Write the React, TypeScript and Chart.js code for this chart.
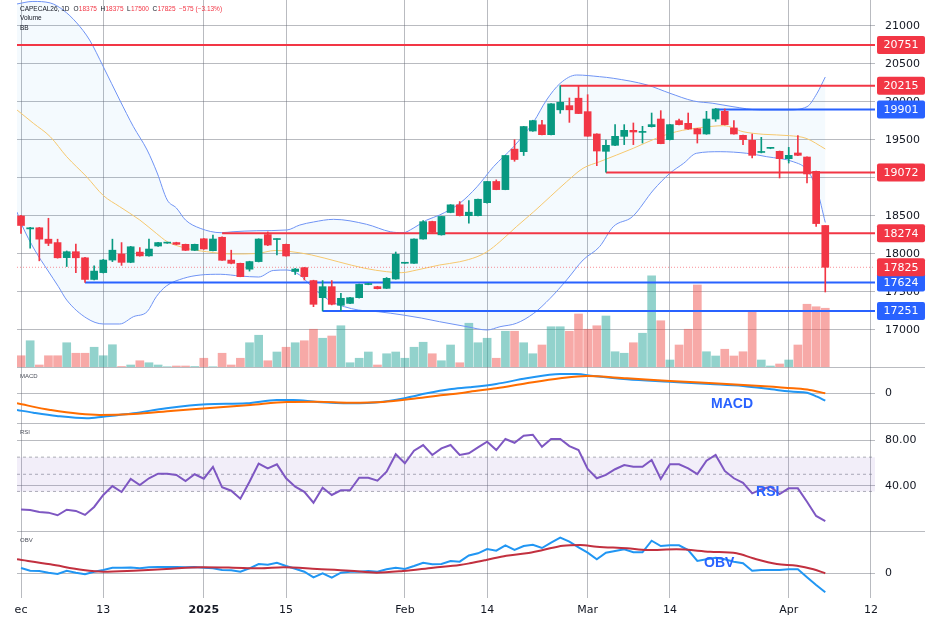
import { useEffect, useRef } from "react";
import Chart from "chart.js/auto";

// daily sessions, index 0 = first visible bar (mid Dec), last = Apr 7
const OPEN = [
  18500, 18330, 18345, 18195, 18150, 17952, 18030, 17950, 17665, 17755,
  17920, 18000, 17890, 18025, 17975, 18105, 18143, 18150, 18127, 18048,
  18200, 18044, 18220, 17920, 17877, 17800, 17900, 18255, 18190, 18127,
  17770, 17820, 17650, 17425, 17570, 17325, 17350, 17425, 17598, 17570,
  17548, 17671, 17878, 17877, 18197, 18428, 18252, 18546, 18647, 18504,
  18504, 18675, 18954, 18847, 19380, 19346, 19618, 19700, 19570, 19897,
  19952, 20050, 19873, 19579, 19351, 19430, 19548, 19627, 19600, 19675,
  19776, 19504, 19754, 19719, 19649, 19579, 19776, 19877, 19658, 19561,
  19496, 19336, 19390, 19351, 19254, 19329, 19276, 19088, 18375,
];
const HIGH = [
  18510, 18350, 18350, 18470, 18195, 18040, 18130, 17955, 17845, 17930,
  18195, 18150, 18100, 18085, 18195, 18155, 18155, 18155, 18130, 18130,
  18205, 18250, 18225, 18050, 17880, 17905, 18200, 18290, 18200, 18130,
  17810, 17825, 17655, 17650, 17650, 17483, 17430, 17605, 17615, 17575,
  17690, 18026, 17890, 18200, 18440, 18432, 18496, 18650, 18690, 18702,
  18724, 18956, 18975, 19298, 19504, 19680, 19760, 19760, 19980, 20215,
  20053, 20213, 20096, 19582, 19500, 19702, 19702, 19724, 19680, 19855,
  19886, 19706, 19776, 19855, 19652, 19877, 19915, 19908, 19754, 19565,
  19579, 19535, 19400, 19355, 19403, 19557, 19280, 19092, 18375,
];
const LOW = [
  18270, 18075, 17910, 18110, 17945, 17835, 17755, 17625, 17660, 17750,
  17900, 17850, 17885, 17970, 17970, 18100, 18140, 18122, 18045, 18045,
  18062, 18040, 17915, 17870, 17700, 17775, 17895, 18110, 17987, 17970,
  17730, 17658, 17307, 17250, 17330, 17251, 17345, 17420, 17595, 17540,
  17545, 17668, 17875, 17875, 18195, 18281, 18248, 18542, 18500, 18405,
  18500, 18670, 18845, 18845, 19220, 19296, 19614, 19568, 19566, 19851,
  19732, 19846, 19548, 19162, 19075, 19425, 19439, 19439, 19460, 19670,
  19450, 19500, 19698, 19640, 19460, 19575, 19745, 19698, 19575, 19439,
  19263, 19330, 19385, 19000, 19197, 19295, 18934, 18364, 17500,
];
const CLOSE = [
  18375, 18345, 18195, 18140, 17950, 18030, 17950, 17665, 17775, 17920,
  18050, 17890, 18095, 17975, 18065, 18150, 18152, 18127, 18048, 18127,
  18066, 18197, 17917, 17877, 17702, 17900, 18197, 18118, 18197, 17974,
  17802, 17702, 17338, 17570, 17338, 17417, 17425, 17600, 17604, 17544,
  17680, 17996, 17886, 18197, 18425, 18285, 18494, 18647, 18504, 18550,
  18720, 18954, 18847, 19296, 19243, 19677, 19755, 19570, 19976, 19996,
  19897, 19848, 19550, 19355, 19430, 19548, 19627, 19605, 19610, 19702,
  19452, 19702, 19702, 19645, 19579, 19776, 19908, 19702, 19579, 19504,
  19298, 19345, 19398, 19254, 19298, 19298, 19053, 18400, 17825,
];
const VOLUME = [
  225, 525, 40, 225, 225, 485, 275, 275, 395, 225,
  445, 10, 40, 125, 85, 40, 5, 20, 20, 10,
  175, 5, 275, 40, 175, 485, 635, 125, 300, 395,
  485, 525, 755, 575, 620, 825, 85, 175, 300, 40,
  265, 300, 175, 395, 495, 265, 125, 440, 85, 875,
  485, 575, 175, 715, 715, 485, 265, 440, 805, 805,
  715, 1060, 755, 825, 1020, 305, 275, 485, 675, 1825,
  925, 140, 440, 755, 1640, 305, 220, 355, 220, 305,
  1105, 140, 20, 60, 140, 440, 1255, 1205, 1175,
];

// Bollinger bands, read at bar positions
const BB_UPPER_X = [
  -0.44, 1.3, 3.2, 4.6, 6.1, 7.5, 9, 10.8, 12.3, 13.8, 14.9, 16, 17, 18, 19.6, 21.9,
  23.2, 25.8, 29.1, 30.5, 32, 34.2, 37.8, 40.4, 41.8, 42.9, 44.4, 45.8, 48, 49.9,
  51.7, 53.9, 56.1, 57.5, 59, 60.8, 63.3, 64.8, 68.5, 71, 73.6, 75.7, 77.9, 80.9,
  83.8, 86, 87.1, 88,
];
const BB_UPPER = [
  21290, 21323, 21303, 21211, 21040, 20816, 20465, 20026, 19675, 19368, 19066, 18710,
  18605, 18447, 18338, 18280, 18293, 18306, 18316, 18381, 18421, 18456, 18391, 18293,
  18280, 18338, 18447, 18513, 18667, 18885, 19149, 19412, 19741, 20026, 20246, 20355,
  20333, 20312, 20224, 20115, 20013, 19983, 19938, 19895, 19895, 19938, 20115, 20329,
];
const BB_BASIS_X = [
  -0.44, 1.35, 3.2, 5, 7.2, 9, 10.8, 13, 14.8, 16, 18.1, 20.3, 23.2, 25.8, 27.8, 29.3,
  31.8, 34.7, 37.6, 40, 41.6, 43.3, 45.8, 48, 49.9, 51, 52.4, 54.2, 56.1, 57.9, 59.7,
  61.5, 63.3, 67, 69.5, 71.7, 74.3, 76.9, 79, 81.2, 84.1, 85.9, 88,
];
const BB_BASIS = [
  19895, 19720, 19543, 19280, 19013, 18770, 18622, 18447, 18272, 18162, 18075, 18030,
  18000, 18006, 18046, 18035, 17987, 17898, 17812, 17767, 17754, 17789, 17855, 17898,
  17964, 18030, 18162, 18359, 18556, 18754, 18951, 19128, 19214, 19391, 19522, 19609,
  19662, 19688, 19609, 19575, 19557, 19522, 19382,
];
const BB_LOWER_X = [
  -0.44, 0.1, 1.5, 2.9, 4.1, 5, 7.2, 9, 10.8, 12.3, 13.8, 14.8, 15.9, 17.8, 19.6, 21.8,
  24, 26, 27.6, 29.1, 30.5, 31.1, 32.2, 34, 35.4, 36.9, 39.1, 41.8, 43.8, 45.8, 48.8,
  51, 52.4, 54.2, 56.1, 57.9, 59.7, 61.5, 63.3, 64.8, 66.9, 69.2, 71, 72.5, 73.9, 76.5,
  79.4, 81.6, 84.5, 86, 87.1, 88,
];
const BB_LOWER = [
  18552, 18381, 18052, 17789, 17569, 17394, 17154, 17079, 17079, 17175, 17241, 17438,
  17579, 17680, 17723, 17733, 17710, 17697, 17783, 17789, 17723, 17658, 17526, 17372,
  17306, 17263, 17240, 17197, 17157, 17109, 17043, 17000, 17043, 17088, 17219, 17417,
  17658, 17921, 18096, 18359, 18491, 18842, 19062, 19193, 19325, 19346, 19325, 19280,
  19214, 19105, 18842, 18414,
];

// horizontal support / resistance levels and the bar each one starts from
const LEVELS = [20751, 20215, 19901, 19072, 18274, 17624, 17251];
const LEVEL_FROM = [-0.44, 59, 76, 64, 22, 7, 33];

const MACD_X = [
  -0.44, 1.35, 3.9, 7.2, 9, 12.3, 15.9, 20.3, 24.7, 28, 29.8, 32.4, 36, 39.6, 42.2, 44.4,
  46.9, 49.1, 52, 55.3, 59, 60.8, 62.6, 66.3, 71, 75.4, 79, 82.7, 84.5, 86, 87.1, 88,
];
const MACD = [
  -250, -291, -340, -375, -351, -300, -225, -165, -150, -100, -100, -130, -150, -126, -66, 0,
  60, 90, 140, 225, 290, 290, 260, 210, 174, 140, 110, 50, 24, 9, -51, -111,
];
const SIGNAL_X = [
  -0.44, 3.2, 8.6, 12.3, 16.7, 20.3, 25.1, 29.1, 32.4, 36, 39.6, 43.3, 46.2, 48, 49.1,
  52, 55.3, 59, 61.9, 66.3, 71, 77.2, 80.9, 84.5, 86.3, 88,
];
const SIGNAL = [
  -150, -250, -325, -310, -261, -225, -175, -130, -126, -141, -130, -75, -25, 0, 24,
  75, 150, 225, 260, 225, 185, 140, 110, 75, 50, 0,
];

const RSI = [
  19.2, 18.7, 17.0, 16.4, 14.1, 19.0, 17.9, 14.4, 21.4, 31.9,
  39.7, 34.5, 45.9, 40.6, 46.5, 50.5, 50.5, 49.4, 44.1, 50.0,
  46.1, 56.4, 38.6, 35.6, 28.6, 43.5, 59.3, 55.2, 58.7, 46.5,
  39.1, 34.7, 25.1, 38.2, 31.9, 36.0, 36.0, 47.0, 47.0, 44.4,
  52.3, 67.5, 59.6, 70.6, 75.6, 66.9, 72.7, 75.6, 66.9, 68.4,
  73.6, 78.5, 71.2, 80.9, 77.6, 83.8, 84.6, 74.1, 80.9, 80.9,
  74.7, 71.2, 54.6, 46.5, 49.4, 54.4, 58.1, 56.6, 56.6, 62.5,
  45.9, 58.7, 58.7, 55.2, 50.2, 61.9, 66.9, 52.9, 46.5, 42.6,
  33.3, 36.8, 39.1, 32.7, 37.7, 37.7, 26.0, 13.5, 9.1,
];
const RSI_BAND = [65, 50, 35];

const OBV = [
  850, 416, 368, 96, -112, 416, 96, -160, 256, 528,
  896, 896, 928, 800, 960, 1008, 1008, 1008, 976, 1008,
  896, 800, 528, 480, 256, 800, 1488, 1376, 1696, 1168,
  736, 256, -640, 0, -704, 96, 256, 256, 368, 256,
  640, 896, 688, 1168, 1696, 1440, 1488, 1968, 1856, 2848,
  3200, 3888, 3616, 4480, 3728, 4368, 4576, 4048, 4896, 5696,
  5056, 4160, 3296, 2240, 3296, 3568, 3840, 3360, 3360, 5216,
  4368, 4480, 4480, 3728, 1968, 2240, 2496, 2240, 1856, 1600,
  416, 528, 528, 528, 640, 640, -640, -1872, -3040,
];
const OBV_MA_X = [
  -0.44, 3.2, 6.8, 9, 12.3, 15.9, 19.9, 23.2, 26.1, 28.7, 32.4, 36, 38.9, 41.8, 45.1,
  48, 49.1, 50.9, 53.1, 55.3, 57.1, 59.3, 61.2, 63, 66.3, 68.5, 71.7, 75.4, 78.3, 80.1,
  82.7, 84.9, 86.7, 88,
];
const OBV_MA = [
  2240, 1440, 528, 256, 416, 688, 960, 896, 800, 960, 688, 416, 96, 368, 896,
  1328, 1600, 2128, 2816, 3200, 3728, 4416, 4528, 4256, 4000, 3728, 3840, 3456, 3200, 2400,
  1488, 1216, 640, 0,
];

const X_TICKS = [0, 9, 20, 29, 42, 51, 62, 71, 84, 93];
const X_LABELS = ["ec", "13", "2025", "15", "Feb", "14", "Mar", "14", "Apr", "12"];
const PRICE_TICKS = [17000, 17500, 18000, 18500, 19000, 19500, 20000, 20500, 21000];
const RSI_TICKS = [40, 80];
const SYMBOL = "CAPECAL26, 1D";
const OHLC_KEYS = ["O", "H", "L", "C"];

// axis windows
const X_MIN = -0.44;
const X_MAX = 93.44;
const PRICE_MIN = 16513;
const PRICE_MAX = 21342;
const VOLUME_MAX = 7340;
const MACD_MIN = -446;
const MACD_MAX = 395;
const RSI_MIN = 0.35;
const RSI_MAX = 94.88;
const OBV_MIN = -3952;
const OBV_MAX = 6768;

// styles
const AXIS_FONT = "'DejaVu Sans', sans-serif";
const SMALL_FONT = "'Liberation Sans', Arial, sans-serif";
const TEXT = "#131722";
const GRID = "rgba(100,104,115,0.45)";
const UP = "#089981";
const DOWN = "#f23645";
const UP_VOL = "rgba(38,166,154,0.5)";
const DOWN_VOL = "rgba(239,83,80,0.5)";
const BLUE = "#2962ff";
const LEVEL_COLORS = [DOWN, DOWN, BLUE, DOWN, DOWN, BLUE, BLUE];
const AXIS_W = 65;

const pts = (xs: number[], ys: number[]) => xs.map((x, i) => ({ x, y: ys[i] }));
const perBar = (ys: number[]) => ys.map((y, i) => ({ x: i, y }));
const flat = (v: number, from = X_MIN) => [
  { x: from, y: v },
  { x: X_MAX, y: v },
];

function line(data: any[], color: string, width: number, extra: any = {}) {
  return {
    type: "line",
    data,
    borderColor: color,
    borderWidth: width,
    pointRadius: 0,
    fill: false,
    ...extra,
  };
}

function timeScale(labels: boolean) {
  return {
    type: "linear",
    min: X_MIN,
    max: X_MAX,
    offset: false,
    bounds: "data",
    afterBuildTicks: (s: any) => {
      s.ticks = X_TICKS.map((value) => ({ value }));
    },
    afterFit: (s: any) => {
      s.height = labels ? 29 : 0;
      s.paddingLeft = 0;
      s.paddingRight = 0;
    },
    grid: { color: GRID, drawTicks: false, offset: false },
    border: { display: false },
    ticks: {
      display: labels,
      autoSkip: false,
      maxRotation: 0,
      minRotation: 0,
      padding: 6,
      color: TEXT,
      font: (c: any) => ({
        family: AXIS_FONT,
        size: 11,
        weight: X_LABELS[c.index] === "2025" ? "bold" : "normal",
      }),
      callback: (_v: any, i: number) => X_LABELS[i],
    },
  };
}

function valueScale(min: number, max: number, ticks: number[], fmt: (v: number) => string) {
  return {
    type: "linear",
    position: "right",
    min,
    max,
    bounds: "data",
    afterBuildTicks: (s: any) => {
      s.ticks = ticks.map((value) => ({ value }));
    },
    afterFit: (s: any) => {
      s.width = AXIS_W;
      s.paddingTop = 0;
      s.paddingBottom = 0;
    },
    grid: { color: GRID, drawTicks: false },
    border: { display: false },
    ticks: {
      color: TEXT,
      font: { family: AXIS_FONT, size: 11 },
      padding: 10,
      callback: (v: any) => fmt(Number(v)),
    },
  };
}

function baseOptions(scales: any) {
  return {
    responsive: true,
    maintainAspectRatio: false,
    animation: false,
    events: [],
    layout: { padding: { left: 17, right: 0, top: 0, bottom: 0 } },
    elements: { point: { radius: 0 } },
    plugins: { legend: { display: false }, tooltip: { enabled: false } },
    scales,
  };
}

// thin line on top of each lower pane, running into the axis column
const separator = {
  id: "separator",
  afterDraw(chart: any) {
    const { ctx, chartArea } = chart;
    ctx.save();
    ctx.strokeStyle = GRID;
    ctx.lineWidth = 1;
    ctx.beginPath();
    ctx.moveTo(chartArea.left, chartArea.top + 0.5);
    ctx.lineTo(chartArea.right + 50, chartArea.top + 0.5);
    ctx.stroke();
    ctx.restore();
  },
};

function paneTitle(name: string, badge: string, bx: number, by: number) {
  return {
    id: "paneTitle",
    afterDraw(chart: any) {
      const { ctx, chartArea, scales } = chart;
      ctx.save();
      ctx.textBaseline = "middle";
      ctx.font = `6px ${SMALL_FONT}`;
      ctx.fillStyle = "#4a4e59";
      ctx.fillText(name, chartArea.left + 3, chartArea.top + 9.5);
      ctx.font = `bold 14px ${SMALL_FONT}`;
      ctx.fillStyle = BLUE;
      ctx.textAlign = "center";
      ctx.fillText(badge, scales.x.getPixelForValue(bx), scales.y.getPixelForValue(by));
      ctx.restore();
    },
  };
}

const legendText = {
  id: "legendText",
  afterDraw(chart: any) {
    const { ctx, chartArea } = chart;
    const last = CLOSE.length - 1;
    const prev = CLOSE[last - 1];
    const change = CLOSE[last] - prev;
    const pct = (change / prev) * 100;
    const signed = (n: number, d: number) => (n < 0 ? "\u2212" : "+") + Math.abs(n).toFixed(d);
    const values = [OPEN[last], HIGH[last], LOW[last], CLOSE[last]];
    const parts: [string, string][] = [[SYMBOL, TEXT]];
    OHLC_KEYS.forEach((k, i) => {
      parts.push([k, TEXT]);
      parts.push([String(values[i]), DOWN]);
    });
    parts.push([`${signed(change, 0)} (${signed(pct, 2)}%)`, DOWN]);

    ctx.save();
    ctx.textBaseline = "middle";
    ctx.font = `6.5px ${SMALL_FONT}`;
    let x = chartArea.left + 3;
    parts.forEach(([t, c], i) => {
      ctx.fillStyle = c;
      ctx.fillText(t, x, 9);
      x += ctx.measureText(t).width + (i === 0 ? 4 : i % 2 === 1 ? 0.3 : 3.5);
    });
    ctx.fillStyle = TEXT;
    ctx.fillText("Volume", chartArea.left + 3, 18.7);
    ctx.fillText("BB", chartArea.left + 3, 28.3);
    ctx.restore();
  },
};

const priceBoxes = {
  id: "priceBoxes",
  afterDraw(chart: any) {
    const { ctx, chartArea, scales } = chart;
    const boxes = LEVELS.map((v, i) => ({ v, c: LEVEL_COLORS[i] }));
    boxes.push({ v: CLOSE[CLOSE.length - 1], c: DOWN });
    ctx.save();
    ctx.font = `11px ${AXIS_FONT}`;
    ctx.textAlign = "center";
    ctx.textBaseline = "middle";
    boxes.forEach(({ v, c }) => {
      const py = scales.y.getPixelForValue(v);
      ctx.fillStyle = c;
      ctx.beginPath();
      ctx.roundRect(chartArea.right + 2, py - 9, 48, 18, 2);
      ctx.fill();
      ctx.fillStyle = "#ffffff";
      ctx.fillText(String(v), chartArea.right + 26, py + 0.5);
    });
    ctx.restore();
  },
};

function buildPrice(canvas: HTMLCanvasElement) {
  const bars = OPEN.map((_, i) => i);
  const rising = bars.map((i) => CLOSE[i] >= OPEN[i]);
  const candle = rising.map((r) => (r ? UP : DOWN));
  const vol = rising.map((r) => (r ? UP_VOL : DOWN_VOL));
  const last = CLOSE[CLOSE.length - 1];
  const datasets: any[] = [
    line(pts(BB_UPPER_X, BB_UPPER), "#6f93f4", 1, {
      fill: 2,
      backgroundColor: "rgba(33,150,243,0.05)",
      cubicInterpolationMode: "monotone",
      order: 8,
    }),
    line(pts(BB_BASIS_X, BB_BASIS), "#f6c86e", 1, { cubicInterpolationMode: "monotone", order: 7 }),
    line(pts(BB_LOWER_X, BB_LOWER), "#6f93f4", 1, { cubicInterpolationMode: "monotone", order: 7 }),
    {
      type: "bar",
      data: bars.map((i) => ({ x: i, y: VOLUME[i] })),
      yAxisID: "yVol",
      backgroundColor: vol,
      barThickness: 8,
      grouped: false,
      order: 20,
    },
    ...LEVELS.map((lv, k) => line(flat(lv, LEVEL_FROM[k]), LEVEL_COLORS[k], 2, { order: 4 })),
    line(flat(last), "rgba(242,54,69,0.55)", 1, { borderDash: [1, 2], order: 5 }),
    {
      type: "bar",
      data: bars.map((i) => ({ x: i, y: [LOW[i], HIGH[i]] })),
      backgroundColor: candle,
      barThickness: 1,
      grouped: false,
      order: 2,
    },
    {
      type: "bar",
      data: bars.map((i) => ({ x: i, y: [OPEN[i], CLOSE[i]] })),
      backgroundColor: candle,
      barThickness: 7,
      minBarLength: 1,
      grouped: false,
      order: 1,
    },
  ];
  return new Chart(canvas, {
    type: "line",
    data: { datasets },
    options: baseOptions({
      x: timeScale(false),
      y: valueScale(PRICE_MIN, PRICE_MAX, PRICE_TICKS, (v) => String(v)),
      yVol: { type: "linear", display: false, min: 0, max: VOLUME_MAX },
    }),
    plugins: [legendText, priceBoxes],
  } as any);
}

function buildMacd(canvas: HTMLCanvasElement) {
  return new Chart(canvas, {
    type: "line",
    data: {
      datasets: [
        line(pts(SIGNAL_X, SIGNAL), "#ff6d00", 2, { cubicInterpolationMode: "monotone" }),
        line(pts(MACD_X, MACD), "#2196f3", 2, { cubicInterpolationMode: "monotone" }),
      ],
    },
    options: baseOptions({
      x: timeScale(false),
      y: valueScale(MACD_MIN, MACD_MAX, [0], (v) => String(v)),
    }),
    plugins: [separator, paneTitle("MACD", "MACD", 77.8, -160)],
  } as any);
}

function buildRsi(canvas: HTMLCanvasElement) {
  const dash = "rgba(120,123,134,0.6)";
  return new Chart(canvas, {
    type: "line",
    data: {
      datasets: [
        line(perBar(RSI), "#7e57c2", 2, { order: 0 }),
        line(flat(RSI_BAND[0]), dash, 1, {
          borderDash: [3, 3],
          fill: 2,
          backgroundColor: "rgba(126,87,194,0.1)",
          order: 5,
        }),
        line(flat(RSI_BAND[2]), dash, 1, { borderDash: [3, 3], order: 5 }),
        line(flat(RSI_BAND[1]), dash, 1, { borderDash: [3, 3], order: 5 }),
      ],
    },
    options: baseOptions({
      x: timeScale(false),
      y: valueScale(RSI_MIN, RSI_MAX, RSI_TICKS, (v) => v.toFixed(2)),
    }),
    plugins: [separator, paneTitle("RSI", "RSI", 81.7, 34.5)],
  } as any);
}

function buildObv(canvas: HTMLCanvasElement) {
  return new Chart(canvas, {
    type: "line",
    data: {
      datasets: [
        line(pts(OBV_MA_X, OBV_MA), "#c2303f", 2, { cubicInterpolationMode: "monotone" }),
        line(perBar(OBV), "#2196f3", 2),
      ],
    },
    options: baseOptions({
      x: timeScale(true),
      y: valueScale(OBV_MIN, OBV_MAX, [0], (v) => String(v)),
    }),
    plugins: [separator, paneTitle("OBV", "OBV", 76.4, 1650)],
  } as any);
}

function Pane({
  top,
  height,
  build,
}: {
  top: number;
  height: number;
  build: (c: HTMLCanvasElement) => Chart;
}) {
  const ref = useRef<HTMLCanvasElement>(null);
  useEffect(() => {
    if (!ref.current) return;
    const chart = build(ref.current);
    return () => chart.destroy();
  }, [build]);
  return (
    <div style={{ position: "absolute", left: 0, top, width: 940, height }}>
      <canvas ref={ref}></canvas>
    </div>
  );
}

export default function App() {
  return (
    <div
      style={{
        position: "fixed",
        left: 0,
        top: 0,
        width: 940,
        height: 627,
        background: "#ffffff",
        overflow: "hidden",
      }}
    >
      <Pane top={0} height={367} build={buildPrice} />
      <Pane top={367} height={56} build={buildMacd} />
      <Pane top={423} height={108} build={buildRsi} />
      <Pane top={531} height={96} build={buildObv} />
    </div>
  );
}
